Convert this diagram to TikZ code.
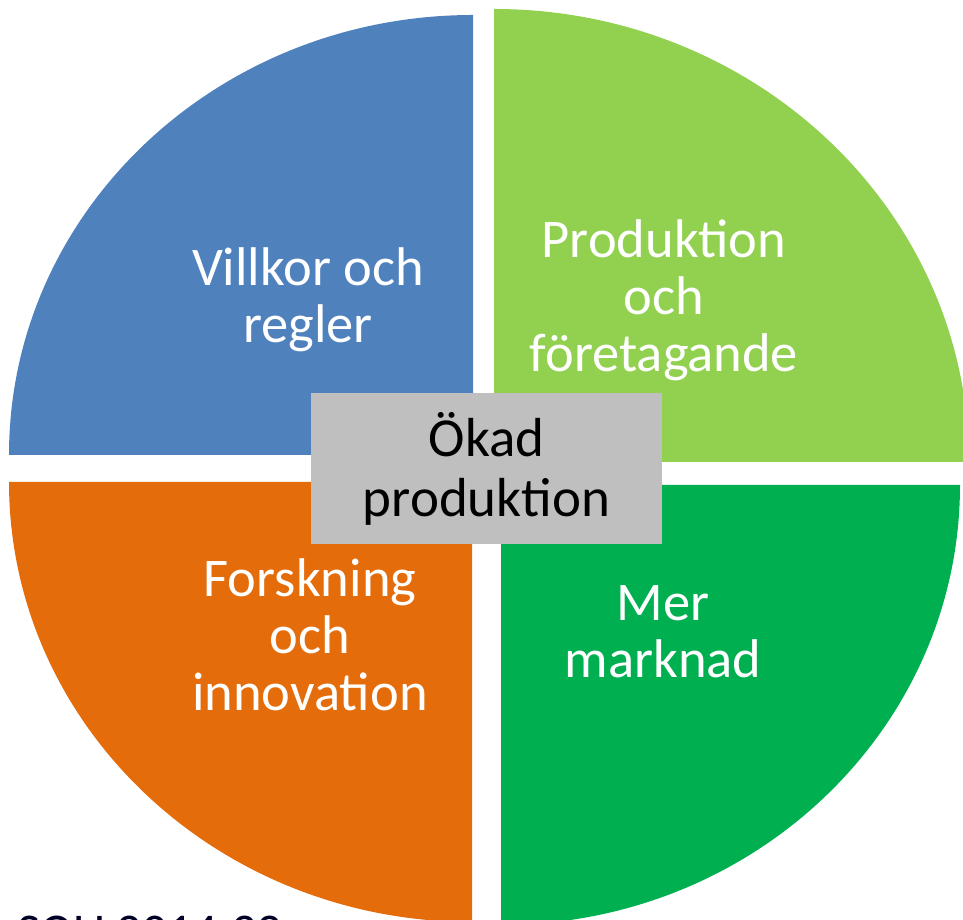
\documentclass[tikz,border=0pt]{standalone}
\usepackage{fontspec}
\setmainfont{Carlito}
\definecolor{quadblue}{RGB}{79, 129, 189}
\definecolor{quadlime}{RGB}{146, 208, 80}
\definecolor{quadorange}{RGB}{228, 108, 10}
\definecolor{quadgreen}{RGB}{0, 176, 80}
\definecolor{hubgray}{RGB}{191, 191, 191}
\usetikzlibrary{positioning}

\begin{document}
\begin{tikzpicture}[x=1pt, y=1pt,
    quadtext/.style={text=white, align=center, anchor=base, inner sep=0pt, font=\fontsize{54.5}{57}\selectfont}]
  \useasboundingbox (0,0) rectangle (963,920);
  \clip (0,0) rectangle (963,920);

  % the four quarters
  \fill[quadblue] (473,465) -- (473,905) arc[start angle=90, end angle=180, x radius=464, y radius=440] -- cycle;
  \fill[quadlime] (494,458) -- (969,458) arc[start angle=0, end angle=90, x radius=475, y radius=453] -- cycle;
  \fill[quadorange] (472,438) -- (9,438) arc[start angle=180, end angle=270, x radius=463, y radius=440] -- cycle;
  \fill[quadgreen] (501,435) -- (501,-5) arc[start angle=270, end angle=360, x radius=459, y radius=440] -- cycle;

  % labels, placed by the baseline of their last line
  \node[quadtext] (villkor) at (308,577) {Villkor och\\regler};
  \node[quadtext] (produktion) at (664,548) {Produktion\\och\\företagande};
  \node[quadtext] (forskning) at (310,209) {Forskning\\och\\innovation};
  \node[quadtext] (marknad) at (663,242) {Mer\\marknad};

  % centre box
  \node[fill=hubgray, minimum width=351pt, minimum height=151pt, inner sep=0pt, align=center,
        font=\fontsize{55}{60}\selectfont] (hub) at (486.5,451.5) {Ökad\\produktion};

  \node[anchor=base west, inner sep=0pt, text=black!85!blue, font=\fontsize{50}{60}\selectfont] (sou) at (17,-29) {SOU 2014:33};
\end{tikzpicture}
\end{document}
